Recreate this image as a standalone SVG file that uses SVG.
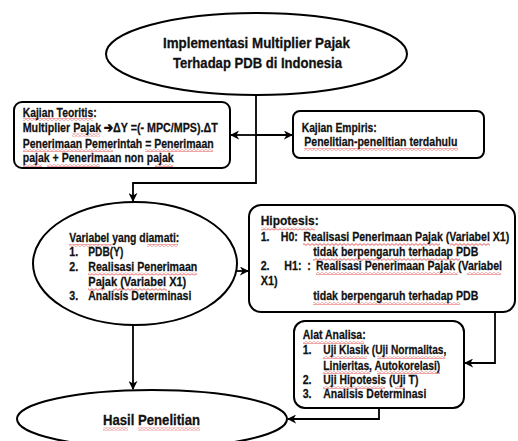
<svg xmlns="http://www.w3.org/2000/svg" width="518" height="441" viewBox="0 0 518 441">
<style>
.box{fill:#fff;stroke:#000;stroke-width:2}
.t{font-family:"Liberation Sans",Arial,sans-serif;font-weight:bold;font-size:13px;fill:#111;stroke:#111;stroke-width:0.25}
.tt{font-family:"Liberation Sans",Arial,sans-serif;font-weight:bold;font-size:15.5px;fill:#111;stroke:#111;stroke-width:0.3}
.c{fill:none;stroke:#000;stroke-width:1.8}
.u{fill:url(#wavy)}
</style>
<defs>
<pattern id="wavy" patternUnits="userSpaceOnUse" width="4" height="3">
<path d="M0,0.6 L2,2.4 L4,0.6" fill="none" stroke="#e03030" stroke-width="0.8"/>
</pattern>
<marker id="ah" viewBox="0 0 10 10" refX="9" refY="5" markerWidth="5" markerHeight="5" orient="auto" markerUnits="strokeWidth">
<path d="M0,0 L10,5 L0,10 L3,5 z" fill="#000"/>
</marker>
</defs>

<g id="connectors">
<path class="c" d="M256,95 V183 H133 V201" marker-end="url(#ah)"/>
<path class="c" d="M256,135 H231" marker-end="url(#ah)"/>
<path class="c" d="M256,135 H292" marker-end="url(#ah)"/>
<path class="c" d="M237,271 H248" marker-end="url(#ah)"/>
<path class="c" d="M495,312 V363 H465" marker-end="url(#ah)"/>
<path class="c" d="M133,325 V389" marker-end="url(#ah)"/>
<path class="c" d="M379,408 V419 H288" marker-end="url(#ah)"/>
</g>

<g id="title">
<ellipse class="box" cx="256.5" cy="54" rx="150.5" ry="41"/>
<text class="tt" transform="translate(163 48) scale(.82 1)" textLength="228" lengthAdjust="spacingAndGlyphs">Implementasi  Multiplier  Pajak</text>
<text class="tt" transform="translate(173 68) scale(.82 1)" textLength="206.1" lengthAdjust="spacingAndGlyphs">Terhadap PDB di Indonesia</text>
</g>

<g id="kajian-teoritis">
<rect class="box" x="14" y="102" width="216" height="66" rx="8"/>
<rect class="u" x="23" y="118" width="70" height="3"/>
<rect class="u" x="72" y="133.5" width="28" height="3"/>
<rect class="u" x="23" y="149" width="90" height="3"/>
<rect class="u" x="145" y="149" width="68" height="3"/>
<rect class="u" x="23" y="164" width="19" height="3"/>
<rect class="u" x="47" y="164" width="53" height="3"/>
<rect class="u" x="155" y="164" width="18" height="3"/>
<text class="t" transform="translate(22.7 116.5) scale(.82 1)" textLength="90.2" lengthAdjust="spacingAndGlyphs">Kajian Teoritis:</text>
<text class="t" transform="translate(22.7 132) scale(.82 1)" textLength="237.8" lengthAdjust="spacingAndGlyphs">Multiplier Pajak ➔ΔY =(- MPC/MPS).ΔT</text>
<text class="t" transform="translate(22.7 147.5) scale(.82 1)" textLength="232.9" lengthAdjust="spacingAndGlyphs">Penerimaan Pemerintah = Penerimaan</text>
<text class="t" transform="translate(22.7 162) scale(.82 1)" textLength="184.1" lengthAdjust="spacingAndGlyphs">pajak + Penerimaan non pajak</text>
</g>

<g id="kajian-empiris">
<rect class="box" x="293" y="111" width="191" height="47" rx="7"/>
<rect class="u" x="304" y="148" width="154" height="3"/>
<text class="t" transform="translate(301.7 132) scale(.82 1)" textLength="91.5" lengthAdjust="spacingAndGlyphs">Kajian Empiris:</text>
<text class="t" transform="translate(304.3 146) scale(.82 1)" textLength="186.6" lengthAdjust="spacingAndGlyphs">Penelitian-penelitian terdahulu</text>
</g>

<g id="variabel">
<ellipse class="box" cx="135" cy="263.5" rx="102" ry="61.5"/>
<rect class="u" x="69" y="244" width="43" height="3"/>
<rect class="u" x="147" y="244" width="31" height="3"/>
<rect class="u" x="88" y="272.5" width="109" height="3"/>
<rect class="u" x="88" y="288" width="17" height="3"/>
<rect class="u" x="113" y="288" width="54" height="3"/>
<text class="t" transform="translate(69.3 241.7) scale(.82 1)" textLength="134.1" lengthAdjust="spacingAndGlyphs">Variabel yang diamati:</text>
<text class="t" transform="translate(69.3 255.5) scale(.82 1)">1.</text>
<text class="t" transform="translate(88.3 255.5) scale(.82 1)" textLength="42.7" lengthAdjust="spacingAndGlyphs">PDB(Y)</text>
<text class="t" transform="translate(69.3 270.5) scale(.82 1)">2.</text>
<text class="t" transform="translate(88.3 270.5) scale(.82 1)" textLength="132.9" lengthAdjust="spacingAndGlyphs">Realisasi Penerimaan</text>
<text class="t" transform="translate(88.3 285.7) scale(.82 1)" textLength="119.5" lengthAdjust="spacingAndGlyphs">Pajak (Variabel  X1)</text>
<text class="t" transform="translate(69.3 300) scale(.82 1)">3.</text>
<text class="t" transform="translate(88.3 300) scale(.82 1)" textLength="125.6" lengthAdjust="spacingAndGlyphs">Analisis Determinasi</text>
</g>

<g id="hipotesis">
<rect class="box" x="249" y="205" width="266" height="107" rx="12"/>
<rect class="u" x="261" y="227.5" width="54" height="3"/>
<rect class="u" x="303" y="243" width="137" height="3"/>
<rect class="u" x="450" y="243" width="40" height="3"/>
<rect class="u" x="313" y="258" width="147" height="3"/>
<rect class="u" x="316" y="272" width="142" height="3"/>
<rect class="u" x="467" y="272" width="34" height="3"/>
<rect class="u" x="313" y="302" width="147" height="3"/>
<text class="t" transform="translate(260.7 225) scale(.82 1)" textLength="70.7" lengthAdjust="spacingAndGlyphs">Hipotesis:</text>
<text class="t" transform="translate(260.7 241) scale(.82 1)">1.</text>
<text class="t" transform="translate(280.7 241) scale(.82 1)">H0:</text>
<text class="t" transform="translate(303.3 241) scale(.82 1)" textLength="251.2" lengthAdjust="spacingAndGlyphs">Realisasi Penerimaan Pajak (Variabel  X1)</text>
<text class="t" transform="translate(313.3 256) scale(.82 1)" textLength="201.2" lengthAdjust="spacingAndGlyphs">tidak berpengaruh terhadap PDB</text>
<text class="t" transform="translate(260.7 270) scale(.82 1)">2.</text>
<text class="t" transform="translate(284.3 270) scale(.82 1)">H1:</text>
<text class="t" transform="translate(307.3 270) scale(.82 1)">:</text>
<text class="t" transform="translate(316 270) scale(.82 1)" textLength="226.8" lengthAdjust="spacingAndGlyphs">Realisasi Penerimaan Pajak (Variabel</text>
<text class="t" transform="translate(260.7 284.5) scale(.82 1)" textLength="20.7" lengthAdjust="spacingAndGlyphs">X1)</text>
<text class="t" transform="translate(313.3 300) scale(.82 1)" textLength="201.2" lengthAdjust="spacingAndGlyphs">tidak berpengaruh terhadap PDB</text>
</g>

<g id="alat-analisa">
<rect class="box" x="294" y="321" width="170" height="87" rx="11"/>
<rect class="u" x="303" y="341" width="61" height="3"/>
<rect class="u" x="323" y="356" width="44" height="3"/>
<rect class="u" x="377" y="356" width="68" height="3"/>
<rect class="u" x="323" y="371" width="47" height="3"/>
<rect class="u" x="377" y="371" width="63" height="3"/>
<rect class="u" x="323" y="386" width="62" height="3"/>
<rect class="u" x="395" y="386" width="10" height="3"/>
<text class="t" transform="translate(302.7 338.7) scale(.82 1)" textLength="76.8" lengthAdjust="spacingAndGlyphs">Alat Analisa:</text>
<text class="t" transform="translate(302.7 354) scale(.82 1)">1.</text>
<text class="t" transform="translate(323.3 354) scale(.82 1)" textLength="150" lengthAdjust="spacingAndGlyphs">Uji Klasik (Uji Normalitas,</text>
<text class="t" transform="translate(323.3 369.5) scale(.82 1)" textLength="142.7" lengthAdjust="spacingAndGlyphs">Linieritas, Autokorelasi)</text>
<text class="t" transform="translate(302.7 384) scale(.82 1)">2.</text>
<text class="t" transform="translate(323.3 384) scale(.82 1)" textLength="115.9" lengthAdjust="spacingAndGlyphs">Uji Hipotesis (Uji T)</text>
<text class="t" transform="translate(302.7 398) scale(.82 1)">3.</text>
<text class="t" transform="translate(323.3 398) scale(.82 1)" textLength="125.6" lengthAdjust="spacingAndGlyphs">Analisis Determinasi</text>
</g>

<g id="hasil">
<ellipse class="box" cx="152" cy="419" rx="135" ry="29"/>
<rect class="u" x="103" y="427.5" width="25" height="3"/>
<rect class="u" x="138" y="427.5" width="62" height="3"/>
<text class="tt" transform="translate(103 425) scale(.82 1)" textLength="118.3" lengthAdjust="spacingAndGlyphs">Hasil  Penelitian</text>
</g>
</svg>
